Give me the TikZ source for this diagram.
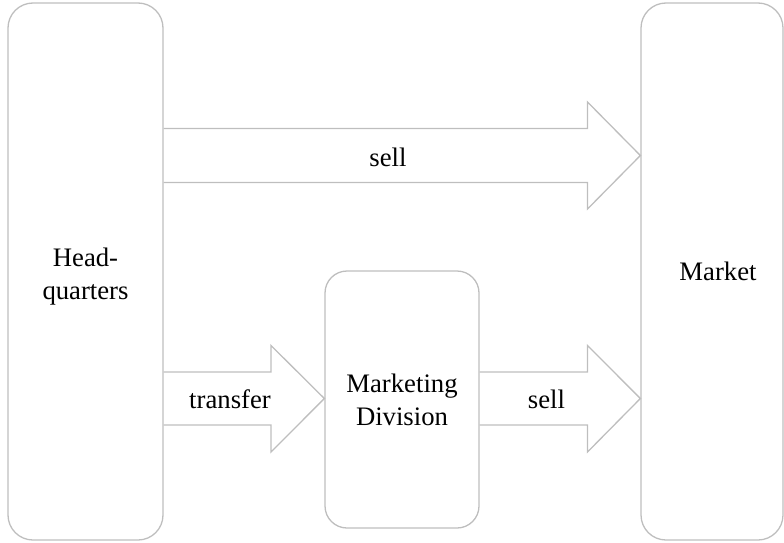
\documentclass[tikz,border=0pt]{standalone}
\usepackage{fontspec}
\setmainfont{Liberation Serif}
\definecolor{edgegray}{RGB}{190,190,190}
\begin{document}
\begin{tikzpicture}[x=1pt,y=-1pt,
  box/.style={draw=edgegray, line width=1.3pt, inner sep=0pt, align=center,
    font=\fontsize{26.7}{33}\selectfont},
  lbl/.style={font=\fontsize{26.7}{33}\selectfont, inner sep=0pt, anchor=base},
  fat/.style={draw=edgegray, line width=1.3pt, line join=miter}]
\useasboundingbox (0,0) rectangle (784,543);
\node[box, rounded corners=25pt, minimum width=155pt, minimum height=537pt] (hq) at (85.5,271.5) {\rule{0pt}{28pt}Head-\\quarters};
\node[box, rounded corners=25pt, minimum width=142pt, minimum height=537pt] (market) at (712,271.5) {\hspace*{12pt}Market};
\node[box, rounded corners=22pt, minimum width=154pt, minimum height=257pt] (md) at (402,399.5) {Marketing\\Division};
% y levels
\coordinate (ta) at (587.5,128.5);
\coordinate (tb) at (587.5,182.5);
\coordinate (tc) at (587.5,102);
\coordinate (td) at (587.5,209);
\coordinate (tm) at (0,155.5);
\coordinate (ba) at (271,372);
\coordinate (bb) at (271,425);
\coordinate (bc) at (271,345.5);
\coordinate (bd) at (271,452);
\coordinate (bm) at (0,398.5);
\coordinate (ca) at (587.5,372);
\coordinate (cb) at (587.5,425);
\coordinate (cc) at (587.5,345.5);
\coordinate (cd) at (587.5,452);
% top arrow: headquarters -> market
\draw[fat] (hq.east |- ta) -- (ta) -- (tc) -- (market.west |- tm) -- (td) -- (tb) -- (hq.east |- tb);
% transfer arrow: headquarters -> marketing division
\draw[fat] (hq.east |- ba) -- (ba) -- (bc) -- (md.west |- bm) -- (bd) -- (bb) -- (hq.east |- bb);
% bottom sell arrow: marketing division -> market
\draw[fat] (md.east |- ca) -- (ca) -- (cc) -- (market.west |- bm) -- (cd) -- (cb) -- (md.east |- cb);
\node[lbl] (sell1) at (388,166.7) {sell};
\node[lbl] (transfer) at (230,408.3) {transfer};
\node[lbl] (sell2) at (546.5,408.3) {sell};
\end{tikzpicture}
\end{document}
